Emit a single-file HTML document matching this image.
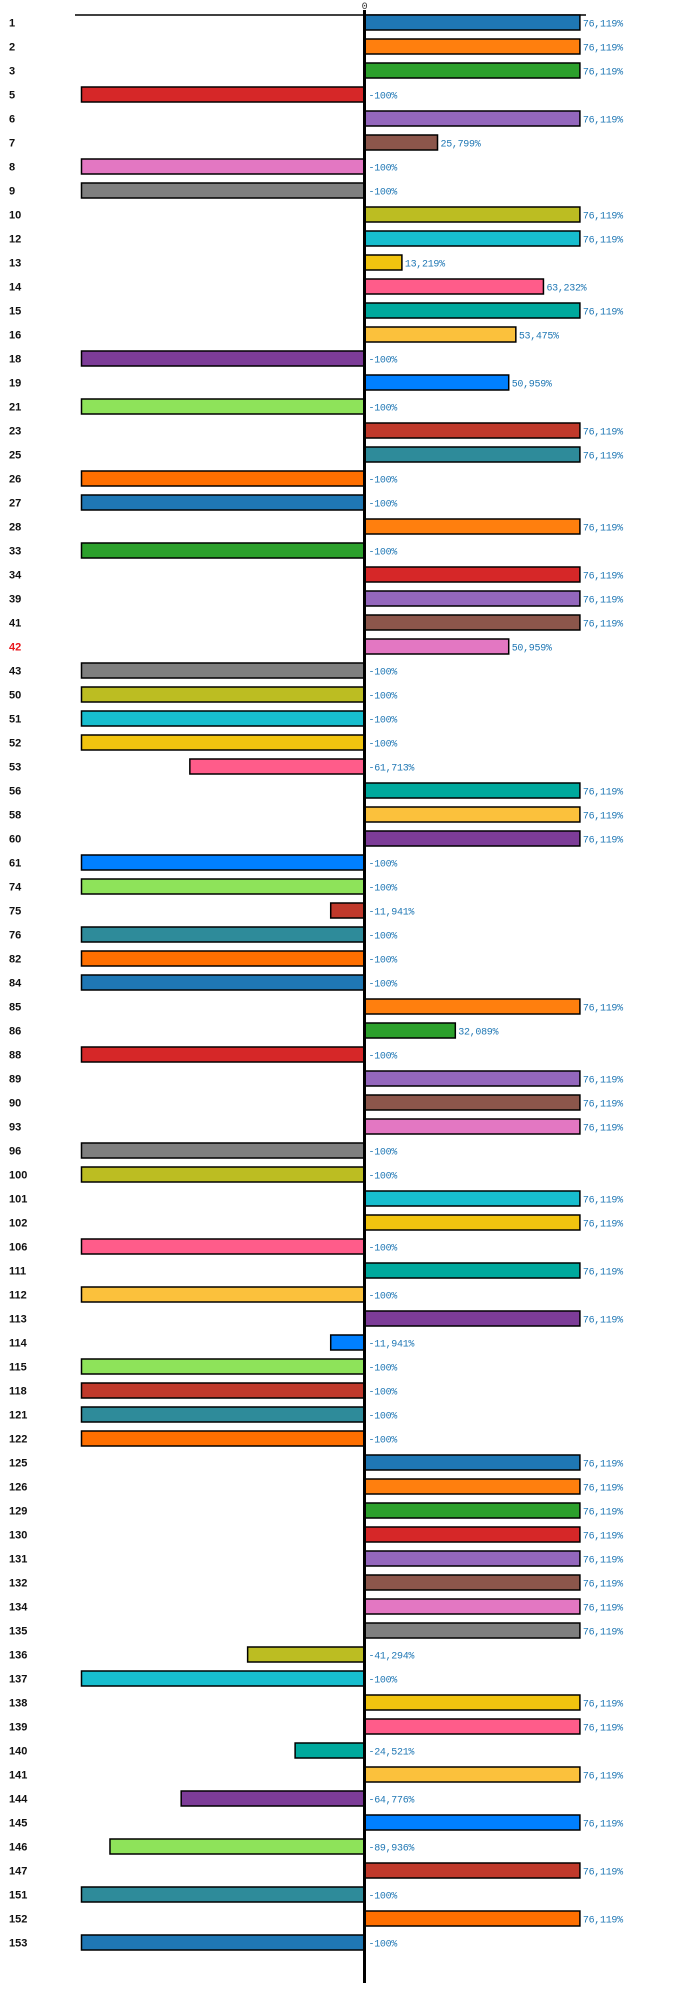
<!DOCTYPE html>
<html><head><meta charset="utf-8"><style>
html,body{margin:0;padding:0;background:#fff;}
svg{display:block;}
.lbl{font:bold 11px "Liberation Sans",sans-serif;fill:#111;}
.val{font:10px "Liberation Mono",monospace;fill:#1f77b4;letter-spacing:-0.3px;}
</style></head><body>
<svg id="chart" width="700" height="1989" xmlns="http://www.w3.org/2000/svg"></svg>
<script>
const categories=["1","2","3","5","6","7","8","9","10","12","13","14","15","16","18","19","21","23","25","26","27","28","33","34","39","41","42","43","50","51","52","53","56","58","60","61","74","75","76","82","84","85","86","88","89","90","93","96","100","101","102","106","111","112","113","114","115","118","121","122","125","126","129","130","131","132","134","135","136","137","138","139","140","141","144","145","146","147","151","152","153"];
const values=[76.119,76.119,76.119,-100,76.119,25.799,-100,-100,76.119,76.119,13.219,63.232,76.119,53.475,-100,50.959,-100,76.119,76.119,-100,-100,76.119,-100,76.119,76.119,76.119,50.959,-100,-100,-100,-100,-61.713,76.119,76.119,76.119,-100,-100,-11.941,-100,-100,-100,76.119,32.089,-100,76.119,76.119,76.119,-100,-100,76.119,76.119,-100,76.119,-100,76.119,-11.941,-100,-100,-100,-100,76.119,76.119,76.119,76.119,76.119,76.119,76.119,76.119,-41.294,-100,76.119,76.119,-24.521,76.119,-64.776,76.119,-89.936,76.119,-100,76.119,-100];
const highlighted=["42"];
const palette=["#1f77b4","#ff7f0e","#2ca02c","#d62728","#9467bd","#8c564b","#e377c2","#7f7f7f","#bcbd22","#17becf","#f1c40f","#ff5c8a","#00a99d","#fbc13c","#7d3c98","#0080ff","#8ee35a","#c0392b","#2e8b9a","#ff6f00"];
const svg=document.getElementById('chart');
const NS="http://www.w3.org/2000/svg";
const x0=364.5, pxPer=2.83, top0=15, step=24, bh=15;
const xs=v=>x0+v*pxPer;
const ys=i=>top0+i*step;
function mk(t,a){const e=document.createElementNS(NS,t);for(const k in a)e.setAttribute(k,a[k]);svg.appendChild(e);return e;}
const tl=mk('line',{x1:75,x2:586,y1:15,y2:15,stroke:'#000','stroke-width':1.5});


const zt=mk('text',{x:x0,y:9,'text-anchor':'middle',class:'val',style:'fill:#333;font-size:10px'});
zt.textContent='0';


categories.forEach((c,i)=>{
  const v=values[i];const y=ys(i);
  const x1=Math.min(xs(0),xs(v)), w=Math.abs(xs(v)-xs(0));
  const r=mk('rect',{x:x1,y:y,width:w,height:bh,fill:palette[i%palette.length],stroke:'#000','stroke-width':1.5});
  
  
  const l=mk('text',{x:9,y:y+11.5,class:'lbl'});
  if(highlighted.includes(c))l.setAttribute('style','fill:#e8161b');
  l.textContent=c;
  
  
  const t=mk('text',{x:(v>=0?xs(v)+3:xs(0)+4),y:y+11.5,class:'val'});
  t.textContent=(Math.round(v*1000)/1000).toString().replace('.',',')+'%';
  
  
});
const ax=mk('line',{x1:x0,x2:x0,y1:10,y2:1983,stroke:'#000','stroke-width':3});


</script>
</body></html>
